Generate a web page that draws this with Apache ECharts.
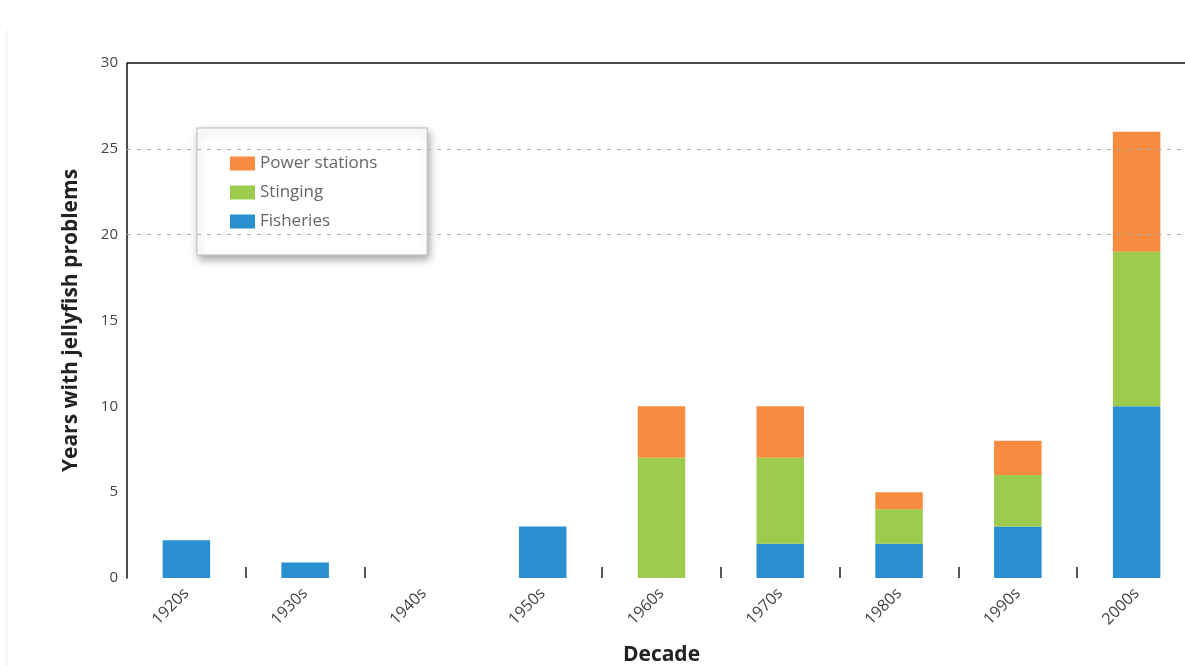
<!DOCTYPE html>
<html>
<head>
<meta charset="utf-8">
<script src="https://cdn.jsdelivr.net/npm/echarts@6/dist/echarts.min.js"></script>
<style>
html,body{margin:0;padding:0;background:#fff;overflow:hidden;}
#chart{width:1196px;height:666px;}
</style>
</head>
<body>
<div id="chart"></div>
<script>
const decades = ['1920s','1930s','1940s','1950s','1960s','1970s','1980s','1990s','2000s'];
const fisheries = [2.2, 0.9, 0, 3, 0, 2, 2, 3, 10];
const stinging = [0, 0, 0, 0, 7, 5, 2, 3, 9];
const powerStations = [0, 0, 0, 0, 3, 3, 1, 2, 7];
const yTicks = [0, 5, 10, 15, 20, 25, 30];
const dashedLines = [20, 25];
const topLine = 30;

const chart = echarts.init(document.getElementById('chart'));
const textFont = '"Open Sans", "Noto Sans", sans-serif';

chart.setOption({
  animation: false,
  backgroundColor: '#ffffff',
  textStyle: { fontFamily: textFont },
  grid: { left: 127, right: 0, top: 63, bottom: 88, containLabel: false, outerBoundsMode: 'none' },
  legend: {
    orient: 'vertical',
    left: 197,
    top: 128,
    data: ['Power stations', 'Stinging', 'Fisheries'],
    icon: 'rect',
    itemWidth: 25,
    itemHeight: 14,
    itemGap: 12,
    padding: [27, 50, 25, 33],
    backgroundColor: '#ffffff',
    borderColor: '#bdbdbd',
    borderWidth: 1,
    shadowBlur: 8,
    shadowColor: 'rgba(0,0,0,0.35)',
    shadowOffsetX: 2,
    shadowOffsetY: 4,
    textStyle: { color: '#666', fontSize: 17, fontFamily: textFont }
  },
  xAxis: {
    type: 'category',
    data: decades,
    boundaryGap: true,
    name: 'Decade',
    nameLocation: 'middle',
    nameGap: 67,
    nameTextStyle: { color: '#222', fontSize: 21, fontWeight: 'bold', fontFamily: textFont },
    axisLine: { show: false },
    axisTick: {
      show: true,
      inside: true,
      length: 11,
      alignWithLabel: false,
      interval: function (index) { return index !== 3 && index !== 0; },
      lineStyle: { color: '#222', width: 1.5 }
    },
    axisLabel: { rotate: 45, margin: 13, color: '#444', fontSize: 16, fontFamily: textFont, interval: 0 }
  },
  yAxis: {
    type: 'value',
    min: yTicks[0],
    max: yTicks[yTicks.length - 1],
    interval: 5,
    name: 'Years with jellyfish problems',
    nameLocation: 'middle',
    nameGap: 45,
    nameTextStyle: { color: '#222', fontSize: 21, fontWeight: 'bold', fontFamily: textFont },
    axisLine: { show: true, lineStyle: { color: '#111', width: 1.5 } },
    axisTick: { show: false },
    splitLine: { show: false },
    axisLabel: { color: '#444', fontSize: 15, margin: 9, fontFamily: textFont }
  },
  graphic: [{
    type: 'line',
    shape: { x1: 7, y1: 30, x2: 7, y2: 666 },
    style: { stroke: '#ececec', lineWidth: 1 },
    silent: true
  }],
  series: [
    {
      name: 'Fisheries',
      type: 'bar',
      stack: 'total',
      barWidth: '40%',
      data: fisheries,
      itemStyle: { color: '#2a8fcf' },
      markLine: {
        silent: true,
        symbol: ['none', 'none'],
        label: { show: false },
        data: dashedLines.map(v => ({ yAxis: v, lineStyle: { color: '#b0b0b0', type: [4, 6], width: 1 } }))
          .concat([{ yAxis: topLine, lineStyle: { color: '#111', type: 'solid', width: 1.5 } }])
      }
    },
    {
      name: 'Stinging',
      type: 'bar',
      stack: 'total',
      barWidth: '40%',
      data: stinging,
      itemStyle: { color: '#9ccb4e' }
    },
    {
      name: 'Power stations',
      type: 'bar',
      stack: 'total',
      barWidth: '40%',
      data: powerStations,
      itemStyle: { color: '#f78c40' }
    }
  ]
});
</script>
</body>
</html>
